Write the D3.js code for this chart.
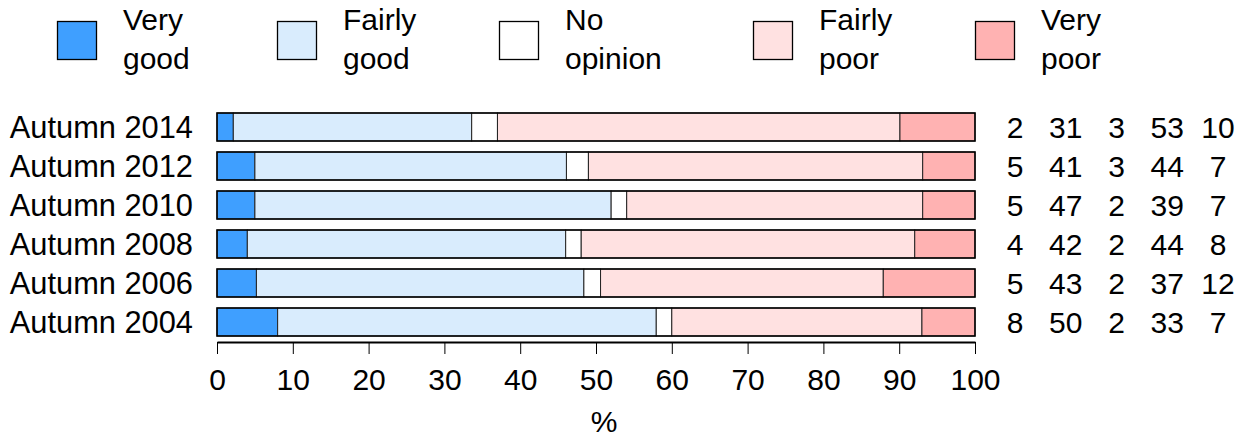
<!DOCTYPE html>
<html>
<head>
<meta charset="utf-8">
<script src="https://cdn.jsdelivr.net/npm/d3@7"></script>
<style>
  html, body { margin: 0; padding: 0; background: #fff; }
  svg { display: block; font-family: "Liberation Sans", Arial, Helvetica, sans-serif; }
</style>
</head>
<body>
<svg id="chart" width="1255" height="437"></svg>
<script>
// ---- data ----
const categories = ["Autumn 2014", "Autumn 2012", "Autumn 2010", "Autumn 2008", "Autumn 2006", "Autumn 2004"];
const seriesNames = ["Very good", "Fairly good", "No opinion", "Fairly poor", "Very poor"];
const legendLines = [["Very", "good"], ["Fairly", "good"], ["No", "opinion"], ["Fairly", "poor"], ["Very", "poor"]];
const veryGood   = [2.15, 5.0, 5.0, 4.0, 5.2, 8.0];
const fairlyGood = [31.45, 41.1, 47.0, 42.0, 43.2, 49.95];
const noOpinion  = [3.4, 2.9, 2.05, 2.05, 2.2, 2.05];
const fairlyPoor = [53.1, 44.1, 39.05, 44.0, 37.3, 33.0];
const veryPoor   = [9.9, 6.9, 6.9, 7.95, 12.1, 7.0];
const seriesColors = ["#3f9fff", "#d9ecfd", "#ffffff", "#ffe1e1", "#ffb2b2"];
const xTicks = [0, 10, 20, 30, 40, 50, 60, 70, 80, 90, 100];
const xLabel = "%";

const series = [veryGood, fairlyGood, noOpinion, fairlyPoor, veryPoor];
const rows = categories.map((c, i) => {
  const o = { cat: c };
  seriesNames.forEach((s, j) => o[s] = series[j][i]);
  return o;
});
const stacked = d3.stack().keys(seriesNames)(rows);

const svg = d3.select("#chart");
const x = d3.scaleLinear().domain([0, 100]).range([217, 975]);
const y = d3.scaleBand().domain(categories).range([107.5, 341.5])
  .paddingInner(11 / 39).paddingOuter(5.5 / 39);
const color = d3.scaleOrdinal().domain(seriesNames).range(seriesColors);

// bars
const g = svg.append("g");
stacked.forEach(layer => {
  g.selectAll(null).data(layer).enter().append("rect")
    .attr("x", d => x(d[0]))
    .attr("y", d => y(d.data.cat))
    .attr("width", d => x(d[1]) - x(d[0]))
    .attr("height", y.bandwidth())
    .attr("fill", color(layer.key))
    .attr("stroke", "#222")
    .attr("stroke-width", 1);
});
// outer border
g.selectAll(null).data(categories).enter().append("rect")
  .attr("x", x(0)).attr("y", d => y(d))
  .attr("width", x(100) - x(0)).attr("height", y.bandwidth())
  .attr("fill", "none").attr("stroke", "#000").attr("stroke-width", 1.5);

// category labels
svg.append("g").selectAll("text").data(categories).enter().append("text")
  .attr("x", 193).attr("y", d => y(d) + y.bandwidth() / 2)
  .attr("dy", "0.36em")
  .attr("text-anchor", "end")
  .attr("font-size", 30.8)
  .text(d => d);

// value columns on the right
const colX = d3.scaleLinear().domain([0, 4]).range([1015, 1218]);
const vg = svg.append("g");
categories.forEach((c, i) => {
  series.forEach((s, j) => {
    vg.append("text")
      .attr("x", colX(j))
      .attr("y", y(c) + y.bandwidth() / 2)
      .attr("dy", "0.36em")
      .attr("text-anchor", "middle")
      .attr("font-size", 30)
      .text(Math.round(s[i]));
  });
});

// x axis
const axis = d3.axisBottom(x).tickValues(xTicks).tickSize(12).tickSizeOuter(0).tickPadding(15);
const ax = svg.append("g").attr("transform", "translate(0,342)").call(axis);
ax.select(".domain").attr("stroke", "#000").attr("stroke-width", 2.2);
ax.selectAll(".tick line").attr("stroke", "#000").attr("stroke-width", 1);
ax.selectAll(".tick text").attr("font-size", 30).attr("fill", "#000")
  .attr("font-family", "'Liberation Sans', Arial, sans-serif");

svg.append("text").attr("x", 604).attr("y", 432)
  .attr("text-anchor", "middle").attr("font-size", 30).text(xLabel);

// legend
const legendX = [57, 277, 499, 753, 975];
const lg = svg.append("g");
seriesNames.forEach((s, i) => {
  const gx = legendX[i];
  lg.append("rect").attr("x", gx + 0.5).attr("y", 21.5).attr("width", 39).attr("height", 38)
    .attr("fill", color(s)).attr("stroke", "#000").attr("stroke-width", 1.3);
  const t = lg.append("text").attr("x", gx + 66).attr("font-size", 30);
  legendLines[i].forEach((ln, k) => {
    t.append("tspan").attr("x", gx + 66).attr("y", 30 + k * 38.5).text(ln);
  });
});
</script>
</body>
</html>
